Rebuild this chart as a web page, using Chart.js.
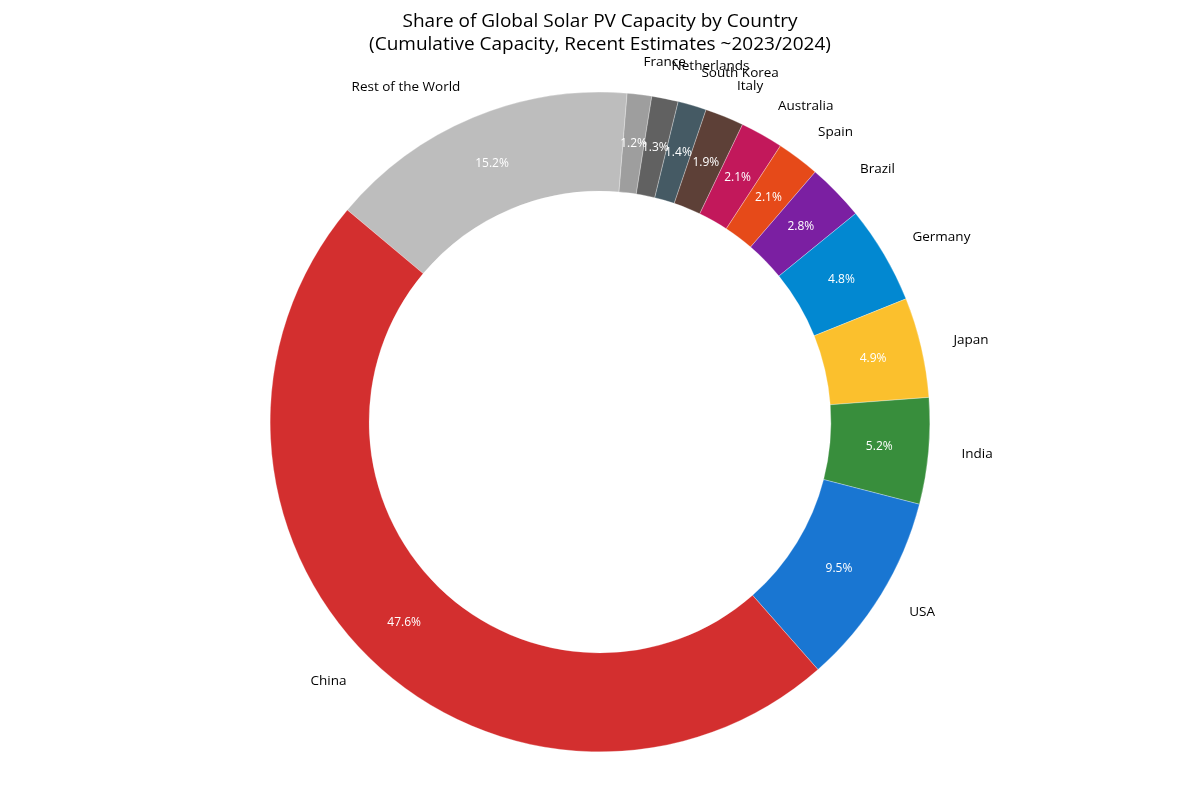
<!DOCTYPE html>
<html>
<head>
<meta charset="utf-8">
<script src="https://cdn.jsdelivr.net/npm/chart.js@4.4.0/dist/chart.umd.min.js"></script>
<style>
  html, body { margin: 0; padding: 0; background: #fff; }
  #wrap { width: 1200px; height: 800px; }
</style>
</head>
<body>
<div id="wrap"><canvas id="chart"></canvas></div>
<script>
// data, listed clockwise from the top-left (reverse of the counter-clockwise pie order)
const countries = ["Rest of the World", "France", "Netherlands", "South Korea", "Italy", "Australia",
  "Spain", "Brazil", "Germany", "Japan", "India", "USA", "China"];
const shares = [15.2, 1.2, 1.3, 1.4, 1.9, 2.1, 2.1, 2.8, 4.8, 4.9, 5.2, 9.5, 47.6];
const colors = ["#bdbdbd", "#9e9e9e", "#616161", "#455a64", "#5d4037", "#c2185b",
  "#e64a19", "#7b1fa2", "#0288d1", "#fbc02d", "#388e3c", "#1976d2", "#d32f2f"];
const titleLines = ["Share of Global Solar PV Capacity by Country",
  "(Cumulative Capacity, Recent Estimates ~2023/2024)"];

const FONT = "'Open Sans', sans-serif";

// draws the outer country labels, the inner % labels and the title
const labelPlugin = {
  id: "pieLabels",
  afterDatasetsDraw(chart) {
    const ctx = chart.ctx;
    const meta = chart.getDatasetMeta(0);
    ctx.save();
    meta.data.forEach(function (arc, i) {
      const p = arc.getProps(["x", "y", "startAngle", "endAngle", "outerRadius"], true);
      const mid = (p.startAngle + p.endAngle) / 2;
      const cos = Math.cos(mid), sin = Math.sin(mid);
      // country name
      const lx = p.x + p.outerRadius * 1.1 * cos;
      const ly = p.y + p.outerRadius * 1.1 * sin;
      ctx.font = "13.5px " + FONT;
      ctx.fillStyle = "#000";
      ctx.textBaseline = "middle";
      ctx.textAlign = cos >= 0 ? "left" : "right";
      ctx.fillText(countries[i], lx, ly);
      // percentage
      const px = p.x + p.outerRadius * 0.85 * cos;
      const py = p.y + p.outerRadius * 0.85 * sin;
      ctx.font = "12px " + FONT;
      ctx.fillStyle = "#fff";
      ctx.textAlign = "center";
      ctx.fillText(shares[i].toFixed(1) + "%", px, py);
    });
    ctx.font = "19px " + FONT;
    ctx.fillStyle = "#000";
    ctx.textAlign = "center";
    ctx.textBaseline = "middle";
    titleLines.forEach(function (t, k) {
      ctx.fillText(t, chart.width / 2, 22 + k * 23);
    });
    ctx.restore();
  }
};

new Chart(document.getElementById("chart"), {
  type: "doughnut",
  data: {
    labels: countries,
    datasets: [{
      data: shares,
      backgroundColor: colors,
      borderColor: "#ffffff",
      borderWidth: 0.3,
      hoverOffset: 0
    }]
  },
  options: {
    responsive: true,
    maintainAspectRatio: false,
    animation: false,
    rotation: -50,
    cutout: "70%",
    layout: { padding: { top: 92, bottom: 48, left: 0, right: 0 } },
    plugins: {
      legend: { display: false },
      tooltip: { enabled: false },
      title: { display: false }
    }
  },
  plugins: [labelPlugin]
});
</script>
</body>
</html>
